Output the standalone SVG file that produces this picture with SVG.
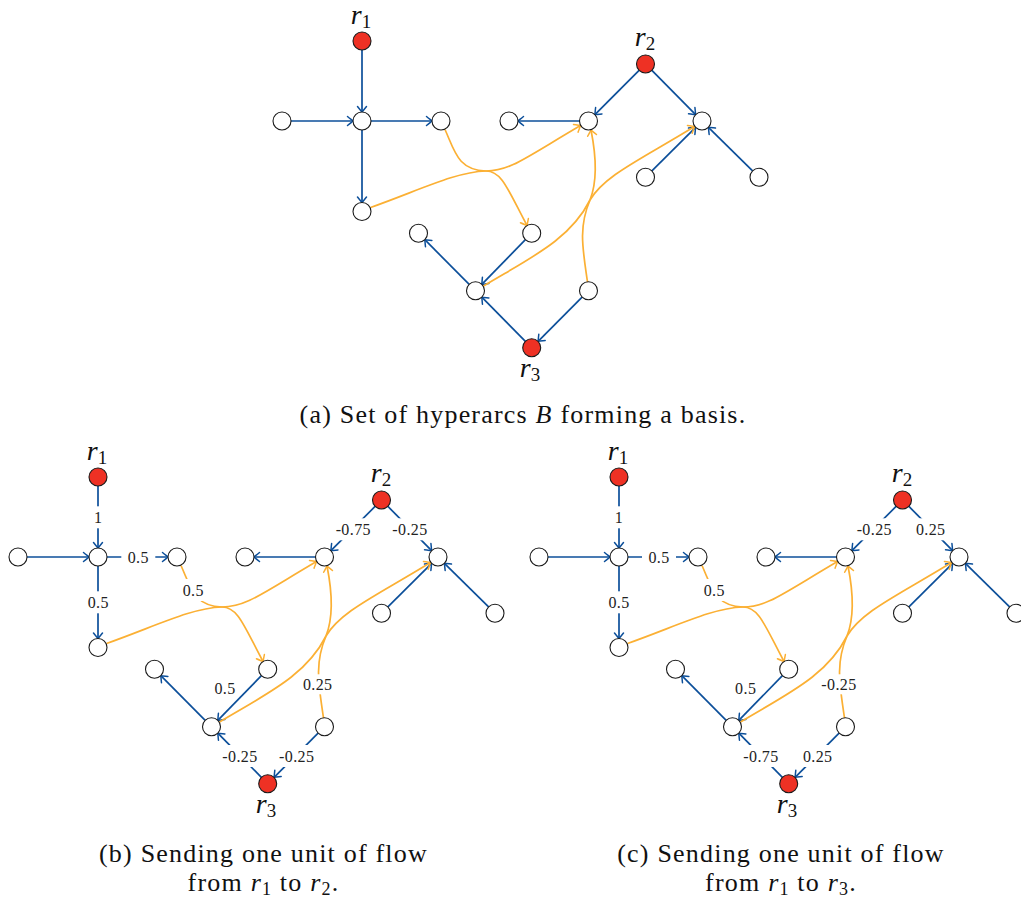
<svg xmlns="http://www.w3.org/2000/svg" width="1021" height="902" viewBox="0 0 1021 902">
<defs>
<style>
.n{fill:#fff;stroke:#1a1a1a;stroke-width:1.1}
.rt{fill:#ee3124;stroke:#1a1a1a;stroke-width:1.1}
.b{fill:none;stroke:#0c4f9a;stroke-width:1.7;marker-end:url(#ab)}
.y{fill:none;stroke:#fbb034;stroke-width:1.7}
.ya{marker-end:url(#ay)}
.lb{fill:#fff}
.lt{font-family:"Liberation Serif","Times New Roman",serif;font-size:16px;letter-spacing:0.4px;fill:#222;text-anchor:middle}
.rl{font-family:"Liberation Serif","Times New Roman",serif;font-size:28px;font-style:italic;fill:#111;text-anchor:middle}
.sub{font-size:19px;font-style:normal}
.cap{font-family:"Liberation Serif","Times New Roman",serif;font-size:26px;letter-spacing:1.2px;fill:#111;text-anchor:middle}
</style>
<marker id="ab" viewBox="-7 -6 9 12" refX="0" refY="0" markerWidth="9" markerHeight="12" orient="auto" markerUnits="userSpaceOnUse">
<path d="M-5.5,-4.5 C-3,-2.5 -1,-0.8 0,0 C-1,0.8 -3,2.5 -5.5,4.5" fill="none" stroke="#0c4f9a" stroke-width="1.5" stroke-linecap="round"/>
</marker>
<marker id="ay" viewBox="-7 -6 9 12" refX="0" refY="0" markerWidth="9" markerHeight="12" orient="auto" markerUnits="userSpaceOnUse">
<path d="M-5.5,-4.5 C-3,-2.5 -1,-0.8 0,0 C-1,0.8 -3,2.5 -5.5,4.5" fill="none" stroke="#fbb034" stroke-width="1.5" stroke-linecap="round"/>
</marker>
</defs>
<rect width="1021" height="902" fill="#fff"/>

<!-- ================= Panel (a) ================= -->
<g id="panel-a">
<g id="a-connectors">
<path class="b" d="M362,50 L362,112"/>
<path class="b" d="M291,121 L353,121"/>
<path class="b" d="M371,121 L432,121"/>
<path class="b" d="M362,130 L362,202.5"/>
<path class="b" d="M579.5,121 L518,121"/>
<path class="b" d="M639.1,70.4 L594.9,114.6"/>
<path class="b" d="M651.9,70.4 L695.6,114.6"/>
<path class="b" d="M651.9,170.9 L695.6,127.4"/>
<path class="b" d="M752.6,170.9 L708.4,127.4"/>
<path class="b" d="M525.4,239.7 L481.8,284.4"/>
<path class="b" d="M469.2,284.4 L424.8,239.7"/>
<path class="b" d="M525.4,341.3 L481.8,297.2"/>
<path class="b" d="M582.1,297.2 L538.1,341.3"/>
<path class="y" d="M445,129.5 C455,152 458,170 486,171"/>
<path class="y" d="M370.5,207.5 C420,190 455,172 486,171"/>
<path class="y ya" d="M486,171 C510,171 525,158 580.5,125.5"/>
<path class="y ya" d="M486,171 C502,171 508,190 527,225.5"/>
<path class="y" d="M587.5,282 C583,250 578,228 590,200"/>
<path class="y" d="M483.5,286 C530,258 570,240 590,200"/>
<path class="y ya" d="M590,200 C596,185 597,160 591,130"/>
<path class="y ya" d="M590,200 C605,175 640,160 694.5,126.5"/>
</g>
<g id="a-r1"><circle class="rt" cx="362" cy="41" r="9"/><text class="rl" x="361" y="24">r<tspan class="sub" dy="4">1</tspan></text></g>
<g id="a-A"><circle class="n" cx="362" cy="121" r="9"/></g>
<g id="a-L"><circle class="n" cx="282" cy="121" r="9"/></g>
<g id="a-R"><circle class="n" cx="441" cy="121" r="9"/></g>
<g id="a-Bl"><circle class="n" cx="362" cy="211.5" r="9"/></g>
<g id="a-BL"><circle class="n" cx="509" cy="121" r="9"/></g>
<g id="a-B"><circle class="n" cx="588.5" cy="121" r="9"/></g>
<g id="a-r2"><circle class="rt" cx="645.5" cy="64" r="9"/><text class="rl" x="645" y="46">r<tspan class="sub" dy="4">2</tspan></text></g>
<g id="a-C"><circle class="n" cx="702" cy="121" r="9"/></g>
<g id="a-CL"><circle class="n" cx="645.5" cy="177.3" r="9"/></g>
<g id="a-CR"><circle class="n" cx="759" cy="177.3" r="9"/></g>
<g id="a-D"><circle class="n" cx="531.7" cy="233.3" r="9"/></g>
<g id="a-TL"><circle class="n" cx="418.5" cy="233.3" r="9"/></g>
<g id="a-E"><circle class="n" cx="475.5" cy="290.8" r="9"/></g>
<g id="a-F"><circle class="n" cx="588.5" cy="290.8" r="9"/></g>
<g id="a-r3"><circle class="rt" cx="531.7" cy="347.7" r="9"/><text class="rl" x="530" y="377">r<tspan class="sub" dy="4">3</tspan></text></g>
<text class="cap" x="523" y="423">(a) Set of hyperarcs <tspan font-style="italic">B</tspan> forming a basis.</text>
</g>

<!-- ================= Panel (b) ================= -->
<g id="panel-b" transform="translate(-264,436)">
<g id="b-connectors">
<path class="b" d="M362,50 L362,112"/>
<path class="b" d="M291,121 L353,121"/>
<path class="b" d="M371,121 L432,121"/>
<path class="b" d="M362,130 L362,202.5"/>
<path class="b" d="M579.5,121 L518,121"/>
<path class="b" d="M639.1,70.4 L594.9,114.6"/>
<path class="b" d="M651.9,70.4 L695.6,114.6"/>
<path class="b" d="M651.9,170.9 L695.6,127.4"/>
<path class="b" d="M752.6,170.9 L708.4,127.4"/>
<path class="b" d="M525.4,239.7 L481.8,284.4"/>
<path class="b" d="M469.2,284.4 L424.8,239.7"/>
<path class="b" d="M525.4,341.3 L481.8,297.2"/>
<path class="b" d="M582.1,297.2 L538.1,341.3"/>
<path class="y" d="M445,129.5 C455,152 458,170 486,171"/>
<path class="y" d="M370.5,207.5 C420,190 455,172 486,171"/>
<path class="y ya" d="M486,171 C510,171 525,158 580.5,125.5"/>
<path class="y ya" d="M486,171 C502,171 508,190 527,225.5"/>
<path class="y" d="M587.5,282 C583,250 578,228 590,200"/>
<path class="y" d="M483.5,286 C530,258 570,240 590,200"/>
<path class="y ya" d="M590,200 C596,185 597,160 591,130"/>
<path class="y ya" d="M590,200 C605,175 640,160 694.5,126.5"/>
</g>
<g id="b-labels">
<rect class="lb" x="352.3" y="70.3" width="20" height="22"/><text class="lt" x="362.3" y="86.8">1</text>
<rect class="lb" x="385.3" y="110.3" width="34" height="22"/><text class="lt" x="402.3" y="126.8">0.5</text>
<rect class="lb" x="345.3" y="155.3" width="34" height="22"/><text class="lt" x="362.3" y="171.8">0.5</text>
<rect class="lb" x="440.3" y="143" width="34" height="22"/><text class="lt" x="457.3" y="159.5">0.5</text>
<rect class="lb" x="594.3" y="82.3" width="46" height="22"/><text class="lt" x="617.3" y="98.8">-0.75</text>
<rect class="lb" x="651" y="82.3" width="46" height="22"/><text class="lt" x="674" y="98.8">-0.25</text>
<text class="lt" x="489" y="257.8">0.5</text>
<rect class="lb" x="563.2" y="238.3" width="37" height="20"/><text class="lt" x="581.7" y="253.8">0.25</text>
<rect class="lb" x="481" y="309" width="46" height="22"/><text class="lt" x="504" y="325.5">-0.25</text>
<rect class="lb" x="537.7" y="309" width="46" height="22"/><text class="lt" x="560.7" y="325.5">-0.25</text>
</g>
<g id="b-r1"><circle class="rt" cx="362" cy="41" r="9"/><text class="rl" x="361" y="24">r<tspan class="sub" dy="4">1</tspan></text></g>
<g id="b-A"><circle class="n" cx="362" cy="121" r="9"/></g>
<g id="b-L"><circle class="n" cx="282" cy="121" r="9"/></g>
<g id="b-R"><circle class="n" cx="441" cy="121" r="9"/></g>
<g id="b-Bl"><circle class="n" cx="362" cy="211.5" r="9"/></g>
<g id="b-BL"><circle class="n" cx="509" cy="121" r="9"/></g>
<g id="b-B"><circle class="n" cx="588.5" cy="121" r="9"/></g>
<g id="b-r2"><circle class="rt" cx="645.5" cy="64" r="9"/><text class="rl" x="645" y="46">r<tspan class="sub" dy="4">2</tspan></text></g>
<g id="b-C"><circle class="n" cx="702" cy="121" r="9"/></g>
<g id="b-CL"><circle class="n" cx="645.5" cy="177.3" r="9"/></g>
<g id="b-CR"><circle class="n" cx="759" cy="177.3" r="9"/></g>
<g id="b-D"><circle class="n" cx="531.7" cy="233.3" r="9"/></g>
<g id="b-TL"><circle class="n" cx="418.5" cy="233.3" r="9"/></g>
<g id="b-E"><circle class="n" cx="475.5" cy="290.8" r="9"/></g>
<g id="b-F"><circle class="n" cx="588.5" cy="290.8" r="9"/></g>
<g id="b-r3"><circle class="rt" cx="531.7" cy="347.7" r="9"/><text class="rl" x="530" y="377">r<tspan class="sub" dy="4">3</tspan></text></g>
<text class="cap" x="527.5" y="426">(b) Sending one unit of flow</text>
<text class="cap" x="527.5" y="455">from <tspan font-style="italic">r</tspan><tspan font-size="18" dy="4">1</tspan><tspan dy="-4"> to </tspan><tspan font-style="italic">r</tspan><tspan font-size="18" dy="4">2</tspan><tspan dy="-4">.</tspan></text>
</g>

<!-- ================= Panel (c) ================= -->
<g id="panel-c" transform="translate(257,436)">
<g id="c-connectors">
<path class="b" d="M362,50 L362,112"/>
<path class="b" d="M291,121 L353,121"/>
<path class="b" d="M371,121 L432,121"/>
<path class="b" d="M362,130 L362,202.5"/>
<path class="b" d="M579.5,121 L518,121"/>
<path class="b" d="M639.1,70.4 L594.9,114.6"/>
<path class="b" d="M651.9,70.4 L695.6,114.6"/>
<path class="b" d="M651.9,170.9 L695.6,127.4"/>
<path class="b" d="M752.6,170.9 L708.4,127.4"/>
<path class="b" d="M525.4,239.7 L481.8,284.4"/>
<path class="b" d="M469.2,284.4 L424.8,239.7"/>
<path class="b" d="M525.4,341.3 L481.8,297.2"/>
<path class="b" d="M582.1,297.2 L538.1,341.3"/>
<path class="y" d="M445,129.5 C455,152 458,170 486,171"/>
<path class="y" d="M370.5,207.5 C420,190 455,172 486,171"/>
<path class="y ya" d="M486,171 C510,171 525,158 580.5,125.5"/>
<path class="y ya" d="M486,171 C502,171 508,190 527,225.5"/>
<path class="y" d="M587.5,282 C583,250 578,228 590,200"/>
<path class="y" d="M483.5,286 C530,258 570,240 590,200"/>
<path class="y ya" d="M590,200 C596,185 597,160 591,130"/>
<path class="y ya" d="M590,200 C605,175 640,160 694.5,126.5"/>
</g>
<g id="c-labels">
<rect class="lb" x="352" y="70.3" width="20" height="22"/><text class="lt" x="362" y="86.8">1</text>
<rect class="lb" x="385" y="110.3" width="34" height="22"/><text class="lt" x="402" y="126.8">0.5</text>
<rect class="lb" x="345" y="155.3" width="34" height="22"/><text class="lt" x="362" y="171.8">0.5</text>
<rect class="lb" x="440.3" y="143" width="34" height="22"/><text class="lt" x="457.3" y="159.5">0.5</text>
<rect class="lb" x="594.3" y="82.3" width="46" height="22"/><text class="lt" x="617.3" y="98.8">-0.25</text>
<rect class="lb" x="653.2" y="82.3" width="41" height="22"/><text class="lt" x="673.7" y="98.8">0.25</text>
<text class="lt" x="488.7" y="257.8">0.5</text>
<rect class="lb" x="561" y="238.3" width="42" height="20"/><text class="lt" x="582" y="253.8">-0.25</text>
<rect class="lb" x="481" y="309" width="46" height="22"/><text class="lt" x="504" y="325.5">-0.75</text>
<rect class="lb" x="540.2" y="309" width="41" height="22"/><text class="lt" x="560.7" y="325.5">0.25</text>
</g>
<g id="c-r1"><circle class="rt" cx="362" cy="41" r="9"/><text class="rl" x="361" y="24">r<tspan class="sub" dy="4">1</tspan></text></g>
<g id="c-A"><circle class="n" cx="362" cy="121" r="9"/></g>
<g id="c-L"><circle class="n" cx="282" cy="121" r="9"/></g>
<g id="c-R"><circle class="n" cx="441" cy="121" r="9"/></g>
<g id="c-Bl"><circle class="n" cx="362" cy="211.5" r="9"/></g>
<g id="c-BL"><circle class="n" cx="509" cy="121" r="9"/></g>
<g id="c-B"><circle class="n" cx="588.5" cy="121" r="9"/></g>
<g id="c-r2"><circle class="rt" cx="645.5" cy="64" r="9"/><text class="rl" x="645" y="46">r<tspan class="sub" dy="4">2</tspan></text></g>
<g id="c-C"><circle class="n" cx="702" cy="121" r="9"/></g>
<g id="c-CL"><circle class="n" cx="645.5" cy="177.3" r="9"/></g>
<g id="c-CR"><circle class="n" cx="759" cy="177.3" r="9"/></g>
<g id="c-D"><circle class="n" cx="531.7" cy="233.3" r="9"/></g>
<g id="c-TL"><circle class="n" cx="418.5" cy="233.3" r="9"/></g>
<g id="c-E"><circle class="n" cx="475.5" cy="290.8" r="9"/></g>
<g id="c-F"><circle class="n" cx="588.5" cy="290.8" r="9"/></g>
<g id="c-r3"><circle class="rt" cx="531.7" cy="347.7" r="9"/><text class="rl" x="530" y="377">r<tspan class="sub" dy="4">3</tspan></text></g>
<text class="cap" x="524" y="426">(c) Sending one unit of flow</text>
<text class="cap" x="524" y="455">from <tspan font-style="italic">r</tspan><tspan font-size="18" dy="4">1</tspan><tspan dy="-4"> to </tspan><tspan font-style="italic">r</tspan><tspan font-size="18" dy="4">3</tspan><tspan dy="-4">.</tspan></text>
</g>
</svg>
